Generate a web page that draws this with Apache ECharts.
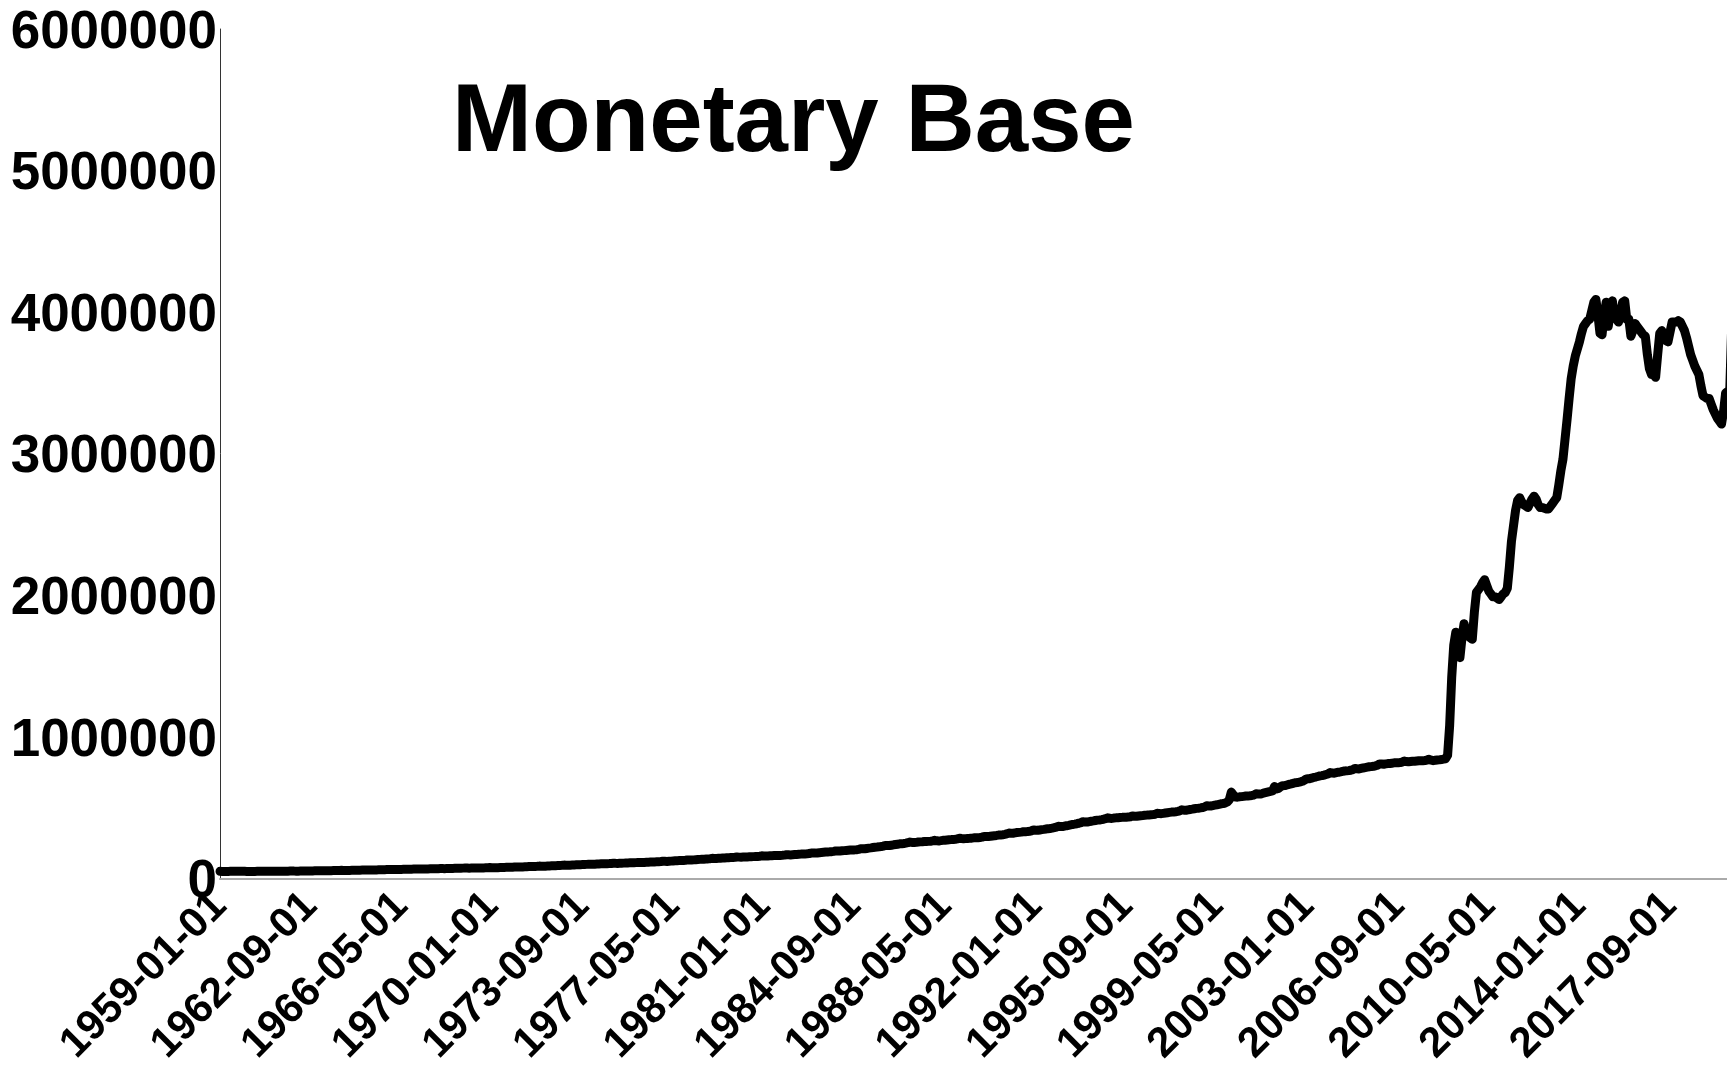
<!DOCTYPE html>
<html>
<head>
<meta charset="utf-8">
<script src="https://cdn.jsdelivr.net/npm/echarts@6/dist/echarts.min.js"></script>
<style>
html,body{margin:0;padding:0;background:#fff;}
#chart{width:1727px;height:1065px;}
</style>
</head>
<body>
<div id="chart"></div>
<script>
// Monetary base, monthly, millions of dollars, starting 1959-01
const startYear = 1959;
const values1959_1969 = [
  50500, 50100, 50000, 50200, 50200, 50400, 50600, 50600, 50500, 50600, 50900, 51300,
  50500, 50000, 49900, 50000, 50000, 50200, 50400, 50500, 50500, 50700, 51000, 51400,
  50800, 50500, 50500, 50700, 50800, 51000, 51300, 51400, 51600, 51900, 52300, 52900,
  52200, 51900, 52000, 52300, 52500, 52700, 53000, 53100, 53300, 53600, 54100, 54800,
  54300, 53900, 54100, 54500, 54800, 55200, 55600, 55700, 55900, 56200, 56800, 57600,
  57000, 56600, 56800, 57200, 57600, 58100, 58600, 58700, 59000, 59300, 59900, 60800,
  60200, 59800, 60100, 60500, 60900, 61400, 61900, 62000, 62300, 62700, 63300, 64300,
  63600, 63200, 63500, 63900, 64200, 64600, 65100, 65200, 65400, 65700, 66300, 67200,
  66800, 66400, 66700, 67100, 67400, 67800, 68300, 68500, 68700, 69100, 69700, 70600,
  70000, 69600, 69900, 70400, 70800, 71300, 71800, 72000, 72300, 72700, 73300, 74300,
  73500, 73000, 73300, 73800, 74100, 74400, 74800, 74900, 75000, 75300, 75900, 76900
];
const values1970s = [
  76000, 75600, 76000, 76600, 77100, 77600, 78300, 78600, 78900, 79400, 80100, 81400,
  81000, 80600, 81200, 81900, 82500, 83200, 84000, 84300, 84700, 85200, 86000, 87500,
  87000, 86600, 87300, 88100, 88800, 89600, 90600, 90900, 91400, 92100, 93000, 94600,
  94000, 93500, 94300, 95100, 95800, 96600, 97500, 97800, 98200, 98800, 99800, 101500,
  101000, 100500, 101300, 102100, 102700, 103400, 104300, 104500, 104800, 105300, 106200, 107900,
  107000, 106500, 107200, 108000, 108600, 109400, 110200, 110400, 110700, 111200, 112100, 113800,
  113000, 112600, 113400, 114400, 115100, 116000, 117000, 117300, 117800, 118500, 119600, 121600,
  121000, 120600, 121600, 122700, 123600, 124700, 125900, 126300, 126900, 127800, 129100, 131500,
  131000, 130500, 131600, 132800, 133900, 135100, 136400, 136800, 137500, 138500, 139900, 142500,
  142000, 141300, 142400, 143600, 144500, 145500, 146700, 147000, 147600, 148400, 149700, 152000
];
const values1980s = [
  151000, 150300, 151200, 152000, 152200, 153000, 154100, 154500, 155200, 156100, 157500, 159900,
  159000, 158400, 159300, 160400, 161000, 161700, 162500, 162700, 163200, 163900, 165200, 167600,
  167000, 166300, 167400, 168800, 169700, 170900, 172200, 172700, 173500, 174700, 176500, 179800,
  180000, 179300, 180800, 182400, 183600, 185000, 186600, 187200, 188200, 189600, 191600, 195000,
  194600, 193900, 195300, 196900, 198000, 199300, 200700, 201200, 202100, 203400, 205500, 210500,
  210800, 210200, 212300, 214600, 216400, 218600, 221000, 222000, 223600, 225700, 228600, 233000,
  233400, 233000, 235300, 237800, 239800, 242100, 244700, 245700, 247500, 249800, 252800, 257500,
  254500, 253600, 255200, 257500, 258700, 259700, 261100, 261400, 262200, 263400, 265500, 269400,
  266300, 265500, 267300, 269500, 270800, 272400, 274300, 274800, 275800, 277400, 279800, 284300,
  282100, 280600, 281600, 283200, 283800, 285000, 287000, 287300, 288200, 289800, 292200, 296900
];
const values1990s = [
  296700, 296000, 298200, 300500, 302200, 304200, 306600, 307600, 309400, 311900, 315200, 320800,
  319800, 319500, 322200, 324500, 325800, 327500, 329700, 330400, 331800, 333900, 336800, 342500,
  340300, 340000, 342500, 345100, 347000, 349300, 352000, 353400, 355700, 358700, 362300, 368800,
  366500, 366500, 369600, 372800, 375500, 378700, 382000, 383900, 386800, 390200, 394400, 401600,
  398700, 398600, 401800, 404600, 406800, 409400, 412200, 413600, 415900, 418600, 422200, 428700,
  425600, 424300, 426800, 428300, 429100, 430300, 431800, 432000, 432700, 433900, 436300, 442100,
  440100, 439200, 441400, 443300, 444500, 446100, 447800, 448400, 449600, 451100, 453900, 460600,
  458400, 457900, 460200, 462700, 464600, 466800, 469200, 470200, 471900, 474100, 477500, 485300,
  482400, 481900, 484700, 487600, 489900, 492600, 495300, 496600, 498700, 501300, 505100, 514200,
  512000, 511800, 514800, 517900, 520600, 524000, 527600, 529800, 533000, 540100, 555000, 610000
];
const values2000s = [
  590000, 575000, 574500, 576800, 578200, 580300, 582600, 583200, 584500, 586400, 589600, 598700,
  597000, 596800, 600300, 604500, 608200, 611800, 615300, 618500, 650000, 632400, 636800, 648900,
  655800, 656300, 660400, 664700, 668200, 672100, 676200, 678300, 681000, 684500, 689300, 699400,
  705400, 705200, 709300, 713600, 716700, 720600, 724800, 726900, 730500, 734800, 738900, 748100,
  744700, 743900, 747300, 750600, 753100, 756200, 759400, 760300, 762100, 764800, 768900, 777200,
  774800, 773600, 777200, 780600, 783200, 786100, 789300, 790200, 792400, 795600, 800500, 809200,
  808200, 806700, 809500, 811600, 812800, 814600, 816700, 816900, 817700, 819300, 822400, 829800,
  825900, 823800, 826100, 827900, 828600, 830300, 832100, 832000, 832300, 833600, 836700, 842500,
  835600, 832400, 834800, 836900, 837800, 840100, 842800, 845200, 870000, 1080000, 1420000, 1650000,
  1740000, 1640000, 1560000, 1700000, 1800000, 1740000, 1720000, 1700000, 1690000, 1880000, 2020000, 2040000
];
const values2010s = [
  2060000, 2090000, 2110000, 2070000, 2030000, 2010000, 1990000, 1990000, 1980000, 1970000, 1990000, 2010000,
  2020000, 2050000, 2200000, 2380000, 2490000, 2600000, 2670000, 2690000, 2660000, 2640000, 2630000, 2620000,
  2650000, 2680000, 2700000, 2680000, 2640000, 2620000, 2620000, 2615000, 2610000, 2610000, 2630000, 2650000,
  2670000, 2690000, 2780000, 2880000, 2960000, 3100000, 3240000, 3390000, 3530000, 3620000, 3690000, 3740000,
  3790000, 3850000, 3900000, 3920000, 3940000, 3950000, 4010000, 4070000, 4090000, 3980000, 3850000, 3840000,
  3980000, 4070000, 3900000, 4000000, 4080000, 3960000, 3950000, 3930000, 4000000, 4070000, 4080000, 3950000,
  3950000, 3830000, 3870000, 3920000, 3900000, 3880000, 3860000, 3840000, 3830000, 3700000, 3600000, 3560000,
  3560000, 3540000, 3700000, 3850000, 3870000, 3830000, 3800000, 3790000, 3860000, 3930000, 3930000, 3930000,
  3940000, 3930000, 3900000, 3870000, 3820000, 3760000, 3700000, 3660000, 3620000, 3590000, 3560000, 3480000,
  3410000, 3400000, 3390000, 3390000, 3350000, 3310000, 3280000, 3250000, 3230000, 3210000, 3300000, 3430000
];
const values2020 = [3440000, 3450000, 3930000, 4830000, 5100000, 4990000];

const titleText = 'Monetary Base';
const yTicks = [0, 1000000, 2000000, 3000000, 4000000, 5000000, 6000000];

const seriesValues = [].concat(values1959_1969, values1970s, values1980s, values1990s, values2000s, values2010s, values2020);
const categories = seriesValues.map(function (v, i) {
  const y = startYear + Math.floor(i / 12);
  const m = (i % 12) + 1;
  return y + '-' + (m < 10 ? '0' + m : m) + '-01';
});

const FONT = '"Liberation Sans", Arial, Helvetica, sans-serif';
const chart = echarts.init(document.getElementById('chart'), null, {renderer: 'canvas'});
chart.setOption({
  animation: false,
  backgroundColor: '#ffffff',
  textStyle: {fontFamily: FONT},
  title: {
    text: titleText,
    left: 447,
    top: 72,
    textStyle: {fontSize: 96, fontWeight: 'bold', color: '#000', fontFamily: FONT}
  },
  grid: {left: 220, width: 1518, top: 29, bottom: 186.5, containLabel: false, outerBoundsMode: 'none'},
  xAxis: {
    type: 'category',
    data: categories,
    boundaryGap: false,
    axisLine: {show: true, lineStyle: {color: '#aaaaaa', width: 2}},
    axisTick: {show: false},
    splitLine: {show: false},
    axisLabel: {
      interval: 43,
      rotate: 45,
      margin: 21,
      color: '#000',
      fontSize: 42,
      fontWeight: 'bold',
      fontFamily: FONT
    }
  },
  yAxis: {
    type: 'value',
    min: yTicks[0],
    max: yTicks[yTicks.length - 1],
    interval: yTicks[1] - yTicks[0],
    axisLine: {show: true, lineStyle: {color: '#333', width: 1}},
    axisTick: {show: false},
    splitLine: {show: false},
    axisLabel: {
      margin: 3,
      color: '#000',
      fontSize: 53,
      fontWeight: 'bold',
      fontFamily: FONT,
      formatter: function (v) { return '{v|' + String(v) + '}'; },
      rich: {
        v: {fontSize: 53, fontWeight: 'bold', color: '#000', fontFamily: FONT, padding: [8, 0, 0, 0]}
      }
    }
  },
  series: [{
    type: 'line',
    data: seriesValues,
    showSymbol: false,
    symbol: 'none',
    clip: false,
    lineStyle: {color: '#000', width: 9, cap: 'round', join: 'round'}
  }]
});
</script>
</body>
</html>
